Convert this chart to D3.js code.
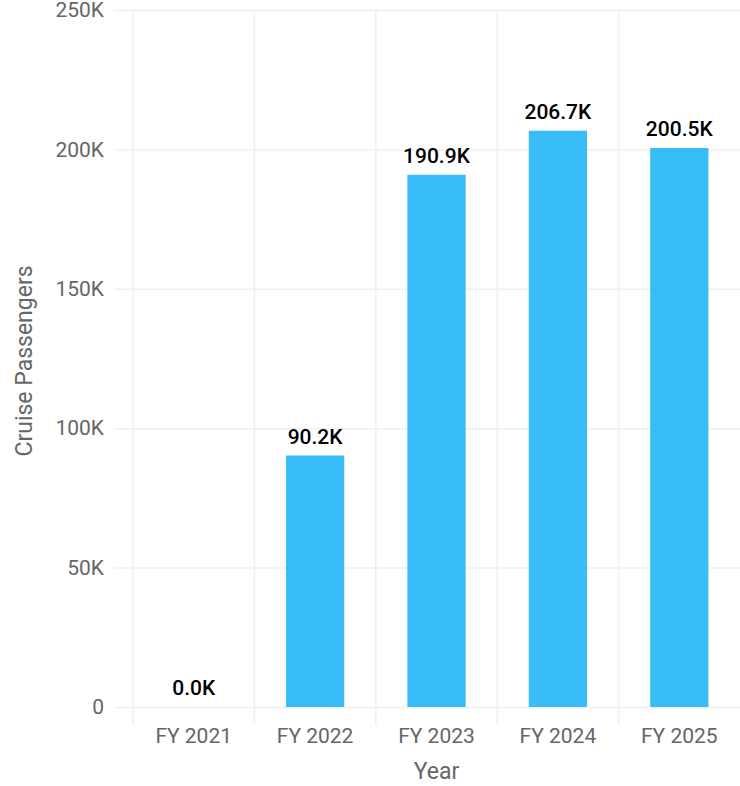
<!DOCTYPE html>
<html>
<head>
<meta charset="utf-8">
<script src="https://cdn.jsdelivr.net/npm/d3@7"></script>
<style>
  body { margin: 0; background: #fff; }
  svg text { font-family: Roboto, sans-serif; }
</style>
</head>
<body>
<script>
const WIDTH = 740;
const HEIGHT = 786;

var years = ['FY 2021', 'FY 2022', 'FY 2023', 'FY 2024', 'FY 2025'];
var passengers = [0, 90200, 190900, 206700, 200500];
var yTicks = [0, 50000, 100000, 150000, 200000, 250000];

var svg = d3.select('body').append('svg')
    .attr('width', WIDTH)
    .attr('height', HEIGHT);

var xScale = d3.scaleBand()
    .domain(years)
    .range([133, 740])
    .paddingInner(0.52)
    .paddingOuter(0.26);
var yScale = d3.scaleLinear()
    .domain([0, 250000])
    .range([707, 10]);

var step = xScale.step();
var halfGap = xScale.paddingInner() * step / 2;

// vertical grid at band edges
svg.append('g').selectAll('line')
    .data(years)
    .enter().append('line')
    .attr('x1', function (d) { return xScale(d) - halfGap; })
    .attr('x2', function (d) { return xScale(d) - halfGap; })
    .attr('y1', 10)
    .attr('y2', 725)
    .attr('stroke', '#f0f0f0')
    .attr('stroke-width', 1.5);

// horizontal grid + y labels
var yAxis = d3.axisLeft(yScale)
    .tickValues(yTicks)
    .tickSize(19)
    .tickPadding(10)
    .tickFormat(function (d) { return d === 0 ? '0' : (d / 1000) + 'K'; });

var yG = svg.append('g')
    .attr('transform', 'translate(133,0)')
    .call(yAxis);
yG.select('.domain').remove();
yG.selectAll('.tick line')
    .attr('x2', 740 - 133)
    .attr('x1', -19)
    .attr('stroke', '#f0f0f0')
    .attr('stroke-width', 1.5);
yG.selectAll('.tick text')
    .attr('fill', '#666')
    .attr('font-size', 21)
    .attr('font-family', 'Roboto, sans-serif');

// x labels
var xAxis = d3.axisBottom(xScale).tickSize(0).tickPadding(21);
var xG = svg.append('g')
    .attr('transform', 'translate(0,707)')
    .call(xAxis);
xG.select('.domain').remove();
xG.selectAll('.tick text')
    .attr('fill', '#666')
    .attr('font-size', 21)
    .attr('font-family', 'Roboto, sans-serif');

// bars
svg.append('g').selectAll('rect')
    .data(passengers)
    .enter().append('rect')
    .attr('x', function (d, i) { return xScale(years[i]); })
    .attr('y', function (d) { return yScale(d); })
    .attr('width', xScale.bandwidth())
    .attr('height', function (d) { return yScale(0) - yScale(d); })
    .attr('fill', '#38bdf8');

// value labels
svg.append('g').selectAll('text')
    .data(passengers)
    .enter().append('text')
    .attr('x', function (d, i) { return xScale(years[i]) + xScale.bandwidth() / 2; })
    .attr('y', function (d) { return yScale(d) - 12; })
    .attr('text-anchor', 'middle')
    .attr('font-size', 21)
    .attr('font-weight', 500)
    .attr('fill', '#000')
    .text(function (d) { return (d / 1000).toFixed(1) + 'K'; });

// axis titles
svg.append('text')
    .attr('x', (133 + 740) / 2)
    .attr('y', 779)
    .attr('text-anchor', 'middle')
    .attr('font-size', 23)
    .attr('fill', '#666')
    .text('Year');

svg.append('text')
    .attr('transform', 'translate(32,' + 361 + ') rotate(-90)')
    .attr('text-anchor', 'middle')
    .attr('font-size', 23)
    .attr('fill', '#666')
    .text('Cruise Passengers');
</script>
</body>
</html>
